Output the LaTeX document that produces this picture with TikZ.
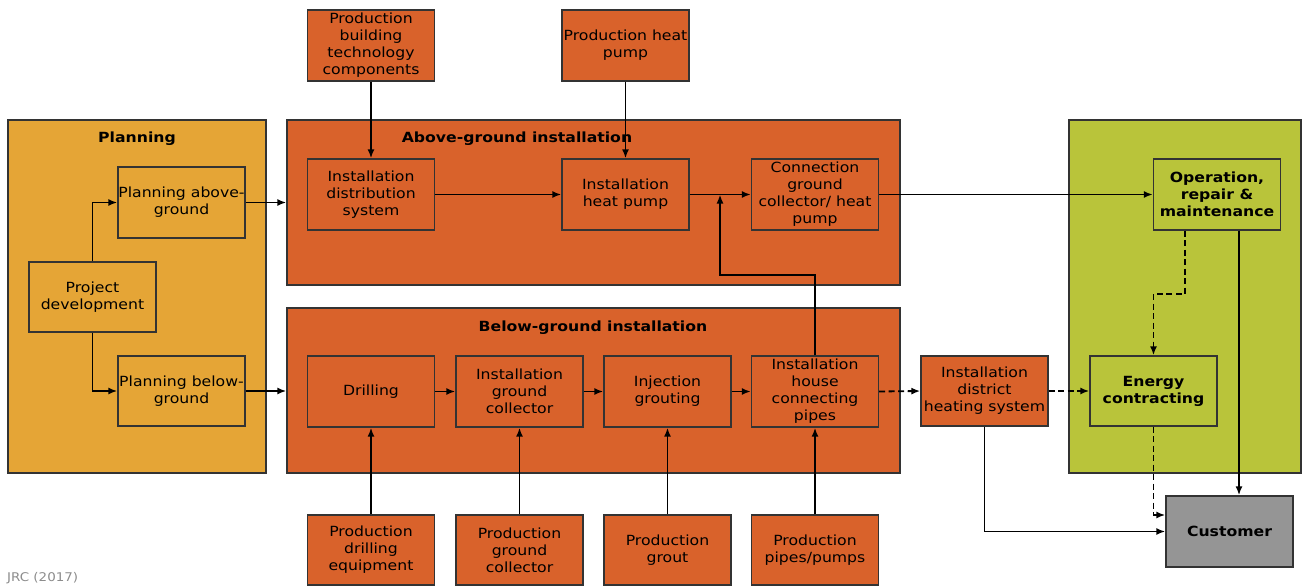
\documentclass[tikz,border=0pt]{standalone}
\usepackage{fontspec}
\setmainfont{DejaVu Sans}[FakeStretch=1.12]
\usetikzlibrary{arrows.meta}
\definecolor{orng}{HTML}{D9622B}
\definecolor{plan}{HTML}{E5A536}
\definecolor{grn}{HTML}{B9C43A}
\definecolor{gry}{HTML}{959595}
\definecolor{edgec}{HTML}{333333}
\begin{document}
\begin{tikzpicture}[x=1pt,y=-1pt,
  every node/.style={font=\fontsize{14}{17}\selectfont, align=center, inner sep=0pt},
  container/.style={draw=edgec, line width=1.3pt},
  box/.style={draw=edgec, line width=1.3pt, minimum width=127pt, minimum height=71pt},
  obox/.style={box, fill=orng},
  pbox/.style={box, fill=plan},
  gbox/.style={box, fill=grn},
  title/.style={font=\fontsize{14}{17}\selectfont\bfseries},
  arr/.style={draw=black, line width=1.8pt, -{Latex[length=9pt,width=7pt]}},
  dsh/.style={arr, dash pattern=on 6pt off 3.5pt}
]
\useasboundingbox (0,0) rectangle (1302,586);

% containers
\node[container, fill=plan, minimum width=258pt, minimum height=353pt] (planC) at (137,296.5) {};
\node[container, fill=orng, minimum width=613pt, minimum height=165pt] (agC) at (593.5,202.5) {};
\node[container, fill=orng, minimum width=613pt, minimum height=165pt] (bgC) at (593.5,390.5) {};
\node[container, fill=grn, minimum width=232pt, minimum height=353pt] (grC) at (1185,296.5) {};

% titles
\node[title] (tPlan) at (137,138.5) {Planning};
\node[title] (tAg) at (517,138.5) {Above-ground installation};
\node[title] (tBg) at (593,327.5) {Below-ground installation};

% planning boxes
\node[pbox] (pa) at (181.5,202.5) {Planning above-\\ground};
\node[pbox, minimum height=70pt] (pd) at (92.5,297) {Project\\development};
\node[pbox, minimum height=70pt] (pb) at (181.5,391) {Planning below-\\ground};

% top production
\node[obox] (pbt) at (371,45.5) {Production\\building\\technology\\components};
\node[obox] (phep) at (625.5,45.5) {Production heat\\pump};

% above-ground boxes
\node[obox] (ids) at (371,194.5) {Installation\\distribution\\system};
\node[obox] (ihp) at (625.5,194.5) {Installation\\heat pump};
\node[obox] (cgc) at (815,194.5) {Connection\\ground\\collector/ heat\\pump};

% below-ground boxes
\node[obox] (dr) at (371,391.5) {Drilling};
\node[obox] (igc) at (519.5,391.5) {Installation\\ground\\collector};
\node[obox] (ijg) at (667.5,391.5) {Injection\\grouting};
\node[obox] (ihcp) at (815,391.5) {Installation\\house\\connecting\\pipes};

% bottom production
\node[obox, minimum height=70pt] (pde) at (371,550) {Production\\drilling\\equipment};
\node[obox, minimum height=70pt] (pgc) at (519.5,550) {Production\\ground\\collector};
\node[obox, minimum height=70pt] (pgr) at (667.5,550) {Production\\grout};
\node[obox, minimum height=70pt] (ppp) at (815,550) {Production\\pipes/pumps};

% right side
\node[obox, minimum height=70pt] (idh) at (984.5,391) {Installation\\district\\heating system};
\node[gbox, font=\fontsize{14}{17}\selectfont\bfseries] (orm) at (1217,194.5) {Operation,\\repair \&\\maintenance};
\node[gbox, minimum height=70pt, font=\fontsize{14}{17}\selectfont\bfseries] (ec) at (1153.5,391) {Energy\\contracting};
\node[box, fill=gry, font=\fontsize{14}{17}\selectfont\bfseries] (cu) at (1229.5,531.5) {Customer};

% source
\node[anchor=west, text=black!45, font=\fontsize{12}{14}\selectfont] (src) at (7,578) {JRC (2017)};

% connectors: planning
\draw[arr] (pd.north) |- (pa.west);
\draw[arr] (pd.south) |- (pb.west);
\draw[arr] (pa.east) -- (agC.west |- pa.east);
\draw[arr] (pb.east) -- (bgC.west |- pb.east);

% above-ground
\draw[arr] (pbt.south) -- (ids.north);
\draw[arr] (phep.south) -- (ihp.north);
\draw[arr] (ids.east) -- (ihp.west);
\draw[arr] (ihp.east) -- (cgc.west);
\coordinate (j1) at (720,275);
\coordinate (j2) at (720,194.5);
\draw[arr] (ihcp.north) |- (j1) -- (j2);
\draw[arr] (cgc.east) -- (orm.west);

% below-ground
\draw[arr] (dr.east) -- (igc.west);
\draw[arr] (igc.east) -- (ijg.west);
\draw[arr] (ijg.east) -- (ihcp.west);
\draw[arr] (pde.north) -- (dr.south);
\draw[arr] (pgc.north) -- (igc.south);
\draw[arr] (pgr.north) -- (ijg.south);
\draw[arr] (ppp.north) -- (ihcp.south);

% right side
\draw[dsh] (ihcp.east) -- (idh.west);
\draw[dsh] (idh.east) -- (ec.west);
\draw[dsh] ([xshift=-32pt]orm.south) -- ++(0,63) -| (ec.north);
\draw[arr] ([xshift=22pt]orm.south) -- ([xshift=22pt]orm.south |- cu.north);
\draw[dsh] (ec.south) |- ([yshift=16.5pt]cu.west);
\draw[arr] (idh.south) |- (cu.west);
\end{tikzpicture}
\end{document}
